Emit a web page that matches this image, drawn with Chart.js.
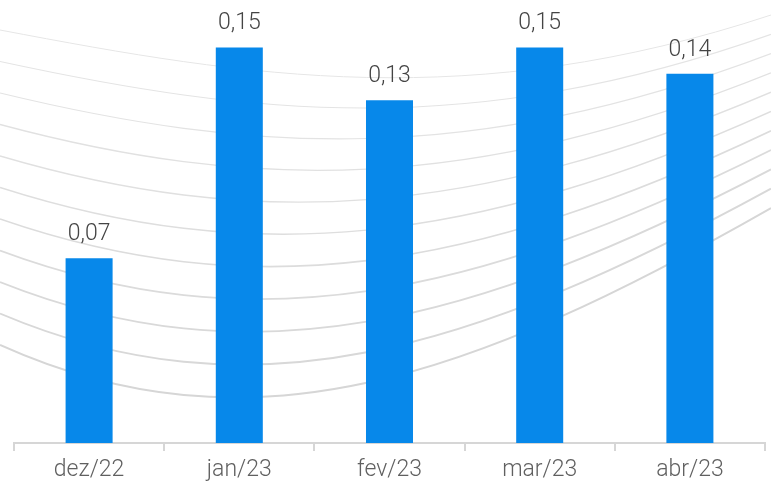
<!DOCTYPE html>
<html>
<head>
<meta charset="utf-8">
<script src="https://cdn.jsdelivr.net/npm/chart.js@4"></script>
<style>
  html, body { margin: 0; padding: 0; background: #fff; }
  #wrap { width: 771px; height: 489px; }
</style>
</head>
<body>
<div id="wrap"><canvas id="myChart" width="771" height="489"></canvas></div>
<script>
// months and values
const months = ['dez/22', 'jan/23', 'fev/23', 'mar/23', 'abr/23'];
const values = [0.07, 0.15, 0.13, 0.15, 0.14];

const ctx = document.getElementById('myChart');

// decorative background curves (cubic beziers, top one and bottom one, others in between)
const waves = {
    id: 'waves',
    beforeDatasetsDraw(chart) {
        const c = chart.ctx;
        const top = [[0, 30], [250, 77.5], [471, 114], [771, 15]];
        const bot = [[0, 345], [250, 457.5], [471, 379], [771, 208]];
        const n = 11;
        c.save();
        for (let i = 0; i < n; i++) {
            const t = i / (n - 1);
            const p = top.map((q, k) => [q[0] + (bot[k][0] - q[0]) * t, q[1] + (bot[k][1] - q[1]) * t]);
            c.beginPath();
            c.moveTo(p[0][0], p[0][1]);
            c.bezierCurveTo(p[1][0], p[1][1], p[2][0], p[2][1], p[3][0], p[3][1]);
            const g = Math.round(230 - 16 * t);
            c.strokeStyle = 'rgb(' + g + ',' + g + ',' + g + ')';
            c.lineWidth = 1 + 1 * t;
            c.stroke();
        }
        c.restore();
    }
};

// value labels above the bars
const barLabels = {
    id: 'barLabels',
    afterDatasetsDraw(chart) {
        const c = chart.ctx;
        const meta = chart.getDatasetMeta(0);
        c.save();
        c.font = '300 23px Roboto';
        c.fillStyle = '#444444';
        c.textAlign = 'center';
        c.textBaseline = 'alphabetic';
        meta.data.forEach((bar, i) => {
            c.fillText(values[i].toFixed(2).replace('.', ','), bar.x, bar.y - 18);
        });
        c.restore();
    }
};

new Chart(ctx, {
    type: 'bar',
    data: {
        labels: months,
        datasets: [{
            data: values,
            backgroundColor: '#0788ea',
            borderWidth: 0,
            barPercentage: 0.313,
            categoryPercentage: 1
        }]
    },
    options: {
        responsive: false,
        animation: false,
        layout: { padding: { left: 14, right: 6, top: 0, bottom: 0 } },
        plugins: {
            legend: { display: false },
            tooltip: { enabled: false }
        },
        scales: {
            y: {
                display: false,
                min: 0,
                max: 0.168
            },
            x: {
                border: { display: true, color: '#d6d6d6', width: 2 },
                grid: {
                    drawOnChartArea: false,
                    color: '#d6d6d6',
                    lineWidth: 2,
                    tickLength: 8,
                    offset: true
                },
                ticks: {
                    color: '#606060',
                    font: { family: 'Roboto', size: 23, weight: '300', lineHeight: 0.7 },
                    padding: 11
                }
            }
        }
    },
    plugins: [waves, barLabels]
});
</script>
</body>
</html>
